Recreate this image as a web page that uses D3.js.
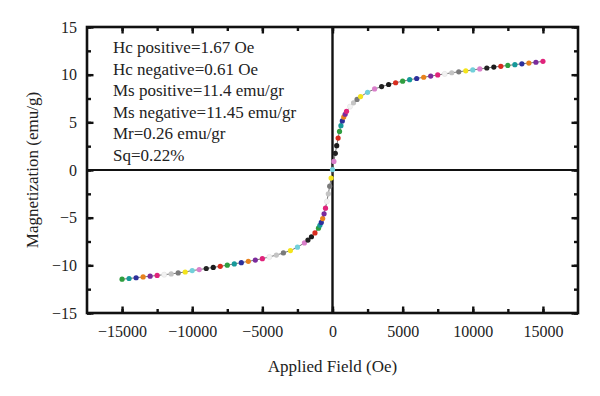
<!DOCTYPE html>
<html lang="en">
<head>
<meta charset="utf-8">
<title>Magnetization curve</title>
<style>
body {
  margin: 0;
  background: #fff;
}
svg text {
  font-family: "Liberation Serif", "DejaVu Serif", serif;
  fill: #222;
}
</style>
</head>
<body>
<div id="chart"></div>
<script src="https://cdn.jsdelivr.net/npm/d3@7"></script>
<script>

// applied field (Oe) and magnetization (emu/g)
var fields = [-15000, -14500, -14000, -13500, -13000, -12500, -12000, -11500, -11000, -10500,
  -10000, -9500, -9000, -8500, -8000, -7500, -7000, -6500, -6000, -5500,
  -5000, -4500, -4000, -3500, -3000, -2500, -2000, -1750, -1500, -1250,
  -1000, -900, -800, -700, -600, -500, -400, -300, -200, -100,
  0, 100, 200, 300, 400, 500, 600, 700, 800, 900,
  1000, 1250, 1500, 1750, 2000, 2500, 3000, 3500, 4000, 4500,
  5000, 5500, 6000, 6500, 7000, 7500, 8000, 8500, 9000, 9500,
  10000, 10500, 11000, 11500, 12000, 12500, 13000, 13500, 14000, 14500, 15000];

var moments = [-11.45, -11.38, -11.3, -11.22, -11.14, -11.06, -10.98, -10.9, -10.8, -10.7,
  -10.55, -10.45, -10.33, -10.22, -10.1, -9.98, -9.85, -9.72, -9.58, -9.45,
  -9.3, -9.12, -8.92, -8.7, -8.45, -8.1, -7.65, -7.35, -7.0, -6.6,
  -6.1, -5.8, -5.5, -5.1, -4.6, -4.0, -3.3, -2.5, -1.7, -0.85,
  0.05, 0.9, 1.75, 2.55, 3.35, 4.05, 4.65, 5.15, 5.55, 5.85,
  6.15, 6.65, 7.05, 7.4, 7.7, 8.15, 8.5, 8.75, 8.97, 9.15,
  9.32, 9.47, 9.6, 9.73, 9.85, 9.97, 10.08, 10.2, 10.3, 10.4,
  10.5, 10.6, 10.7, 10.8, 10.88, 10.97, 11.05, 11.14, 11.22, 11.3, 11.4];

var xTicks = [-15000, -10000, -5000, 0, 5000, 10000, 15000];
var yTicks = [-15, -10, -5, 0, 5, 10, 15];

var notes = ["Hc positive=1.67 Oe", "Hc negative=0.61 Oe", "Ms positive=11.4 emu/gr",
  "Ms negative=11.45 emu/gr", "Mr=0.26 emu/gr", "Sq=0.22%"];

// marker colours cycle along the curve
var dotColors = ["#2f9e3f", "#17999a", "#2c2f9c", "#e8821c", "#7b2b9c", "#e0237b",
  "#f2f2f2", "#c4c4c4", "#7a7a7a", "#f4e41c", "#72d0da", "#d97fca",
  "#222222", "#1b1b1b", "#d82c1f"];

var width = 600, height = 396;
var margin = {top: 27, right: 22, bottom: 83, left: 87};

var svg = d3.select("#chart").append("svg")
  .attr("width", width)
  .attr("height", height);

var x = d3.scaleLinear().domain([-17500, 17500]).range([margin.left, width - margin.right]);
var y = d3.scaleLinear().domain([-15, 15]).range([height - margin.bottom, margin.top]);

var x0 = margin.left, x1 = width - margin.right;
var y0 = height - margin.bottom, y1 = margin.top;

// inward ticks on all four sides
var xMinor = d3.range(-15000, 15001, 2500);
var yMinor = d3.range(-15, 15.01, 2.5);

function tickGroup(axis, tr) {
  var g = svg.append("g").attr("transform", tr).call(axis);
  g.select(".domain").remove();
  g.selectAll("line").attr("stroke", "#111").attr("stroke-width", 2.4);
  return g;
}

tickGroup(d3.axisBottom(x).tickValues(xMinor).tickSize(-4).tickFormat(""), "translate(0," + y0 + ")");
tickGroup(d3.axisBottom(x).tickValues(xTicks).tickSize(-6.5).tickFormat(""), "translate(0," + y0 + ")");
tickGroup(d3.axisTop(x).tickValues(xMinor).tickSize(-4).tickFormat(""), "translate(0," + y1 + ")");
tickGroup(d3.axisTop(x).tickValues(xTicks).tickSize(-6.5).tickFormat(""), "translate(0," + y1 + ")");
tickGroup(d3.axisLeft(y).tickValues(yMinor).tickSize(-4).tickFormat(""), "translate(" + x0 + ",0)");
tickGroup(d3.axisLeft(y).tickValues(yTicks).tickSize(-6.5).tickFormat(""), "translate(" + x0 + ",0)");
tickGroup(d3.axisRight(y).tickValues(yMinor).tickSize(-4).tickFormat(""), "translate(" + x1 + ",0)");
tickGroup(d3.axisRight(y).tickValues(yTicks).tickSize(-6.5).tickFormat(""), "translate(" + x1 + ",0)");

var minus = function(d) { return d < 0 ? "\u2212" + Math.abs(d) : "" + d; };

// tick labels
var xl = svg.append("g")
  .attr("transform", "translate(0," + y0 + ")")
  .call(d3.axisBottom(x).tickValues(xTicks).tickSize(0).tickPadding(13).tickFormat(minus));
xl.select(".domain").remove();
xl.selectAll("text").style("font-size", "16px").attr("fill", "#222");

var yl = svg.append("g")
  .attr("transform", "translate(" + x0 + ",0)")
  .call(d3.axisLeft(y).tickValues(yTicks).tickSize(0).tickPadding(10).tickFormat(minus));
yl.select(".domain").remove();
yl.selectAll("text").style("font-size", "16px").attr("fill", "#222");

// zero lines
svg.append("line")
  .attr("x1", x(0)).attr("x2", x(0)).attr("y1", y1).attr("y2", y0)
  .attr("stroke", "#111").attr("stroke-width", 2.4);
svg.append("line")
  .attr("x1", x0).attr("x2", x1).attr("y1", y(0)).attr("y2", y(0))
  .attr("stroke", "#111").attr("stroke-width", 2.2);

// frame
svg.append("rect")
  .attr("x", x0).attr("y", y1)
  .attr("width", x1 - x0).attr("height", y0 - y1)
  .attr("fill", "none").attr("stroke", "#111").attr("stroke-width", 2.6);

// curve
var pts = fields.map(function(f, i) { return [f, moments[i]]; });

svg.append("path")
  .datum(pts)
  .attr("fill", "none")
  .attr("stroke", "#777")
  .attr("stroke-width", 1)
  .attr("d", d3.line().x(function(d) { return x(d[0]); }).y(function(d) { return y(d[1]); }));

svg.selectAll("circle.dot")
  .data(pts)
  .enter().append("circle")
  .attr("class", "dot")
  .attr("cx", function(d) { return x(d[0]); })
  .attr("cy", function(d) { return y(d[1]); })
  .attr("r", 2.6)
  .attr("fill", function(d, i) { return dotColors[i % dotColors.length]; })
  .attr("stroke", function(d, i) { return i % dotColors.length == 6 ? "#ddd" : "none"; })
  .attr("stroke-width", 0.5);

// annotation
svg.append("g").selectAll("text")
  .data(notes)
  .enter().append("text")
  .attr("x", 113)
  .attr("y", function(d, i) { return 53 + i * 21.6; })
  .style("font-size", "17px")
  .text(function(d) { return d; });

// axis titles
svg.append("text")
  .attr("x", x(0))
  .attr("y", 372)
  .attr("text-anchor", "middle")
  .style("font-size", "17px")
  .text("Applied Field (Oe)");

svg.append("text")
  .attr("transform", "translate(38," + y(0) + ") rotate(-90)")
  .attr("text-anchor", "middle")
  .style("font-size", "17px")
  .text("Magnetization (emu/g)");

</script>
</body>
</html>
